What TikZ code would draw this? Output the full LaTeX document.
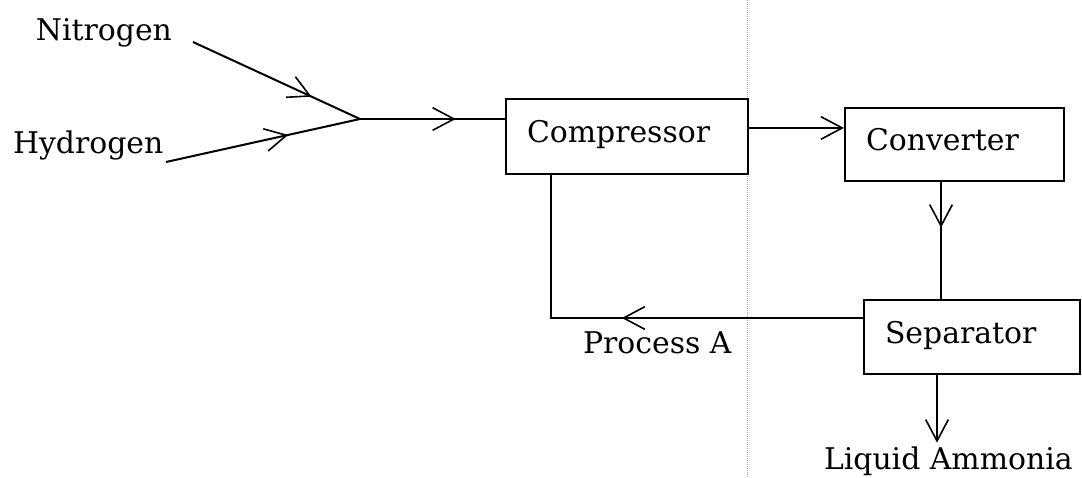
\documentclass[tikz,border=0pt]{standalone}
\usepackage{fontspec}
\setmainfont{DejaVu Serif}
\usetikzlibrary{arrows.meta,decorations.markings}
\begin{document}
\begin{tikzpicture}[
  x=0.75pt, y=-0.75pt,
  font=\fontsize{22.4}{26}\selectfont,
  line width=1.5pt,
  >={Straight Barb[length=16pt,width=17pt,line width=1.2pt]},
  unit/.style={draw, line width=1.6pt, align=left, inner xsep=15.75pt, inner ysep=0pt,
               text height=17pt, text depth=8pt},
  label/.style={inner sep=0pt, anchor=base west},
  midarrow/.style={postaction={decorate},
    decoration={markings, mark=at position #1 with {\arrow{>}}}},
]
\useasboundingbox (0,0) rectangle (1082,478);

% faint fold line
\draw[black!35, densely dotted, line width=0.5pt] (747,0) -- (747,478);

% process units
\node[unit, text width=150pt, minimum height=56.25pt] (comp) at (627,136.5) {Compressor};
\node[unit, text width=132.75pt, minimum height=54.75pt] (conv) at (954.5,144.5) {Converter};
\node[unit, text width=130.5pt, minimum height=55.5pt] (sep) at (972,337) {Separator};

% stream labels
\node[label] (nit) at (35,41) {Nitrogen};
\node[label] (hyd) at (12,153) {Hydrogen};
\node[label] (proc) at (582,353) {Process A};
\node[label] (liq) at (823,469) {Liquid Ammonia};

% feed lines
\coordinate (n0) at (193,42);
\coordinate (h0) at (166,162);
\coordinate (j) at (360,119);

\draw[midarrow=0.71] (n0) -- (j);
\draw[midarrow=0.63] (h0) -- (j);
\draw[midarrow=0.66] (j) -- (j -| comp.west);

% main loop
\draw[->] ([yshift=6.4pt]comp.east) -- ([yshift=6.4pt]comp.east -| conv.west);
\draw[midarrow=0.39] ([xshift=-10.1pt]conv.south) -- ([xshift=-10.1pt]conv.south |- sep.north);
\draw[midarrow=0.53] ([yshift=14.25pt]sep.west) -| ([xshift=-57pt]comp.south);
\draw[->, shorten >=2pt] ([xshift=-26.25pt]sep.south) -- ([xshift=-26.25pt]sep.south |- liq.north);
\end{tikzpicture}
\end{document}
